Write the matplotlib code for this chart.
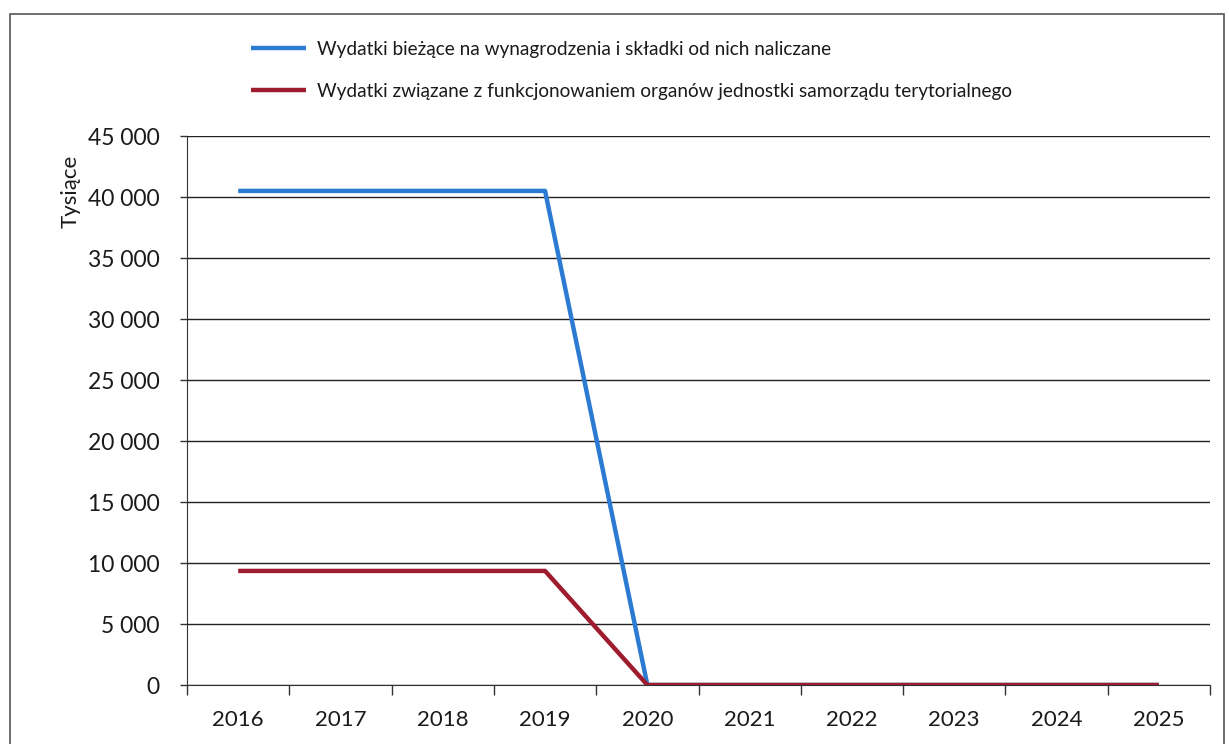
import matplotlib
matplotlib.use("Agg")
import matplotlib.pyplot as plt
from matplotlib.patches import Rectangle
from matplotlib.ticker import FuncFormatter, MultipleLocator

plt.rcParams['font.family'] = ['Lato', 'DejaVu Sans']

# Dane
lata = ['2016', '2017', '2018', '2019', '2020', '2021', '2022', '2023', '2024', '2025']
wynagrodzenia = [40500, 40500, 40500, 40500, 0, 0, 0, 0, 0, 0]
organy = [9350, 9350, 9350, 9350, 0, 0, 0, 0, 0, 0]
etykiety = ['Wydatki bieżące na wynagrodzenia i składki od nich naliczane',
            'Wydatki związane z funkcjonowaniem organów jednostki samorządu terytorialnego']

fig = plt.figure(figsize=(12.29, 7.44), dpi=100)
ax = fig.add_axes([0.1522, 0.0793, 0.8323, 0.7379])

x = list(range(len(lata)))
l1, = ax.plot(x, wynagrodzenia, color='#2b7bd3', linewidth=3.2, solid_capstyle='butt', zorder=3)
l2, = ax.plot(x, organy, color='#9e1c2e', linewidth=3.2, solid_capstyle='butt', zorder=4)

ax.set_xlim(-0.5, len(lata) - 0.5)
ax.set_ylim(0, 45000)
ax.yaxis.set_major_locator(MultipleLocator(5000))
ax.yaxis.set_major_formatter(FuncFormatter(lambda v, p: f"{int(v):,}".replace(',', ' ')))

# etykiety kategorii w środku, kreski na granicach
ax.set_xticks([i + 0.5 for i in range(-1, len(lata))])
ax.set_xticklabels([])
ax.set_xticks(x, minor=True)
ax.set_xticklabels(lata, minor=True, fontsize=16, color='#1a1a1a')
ax.tick_params(axis='x', which='minor', length=0, pad=18)
ax.tick_params(axis='x', which='major', length=7, width=1, color='#333333')
ax.tick_params(axis='y', length=5, width=1, color='#333333', labelsize=16.5, labelcolor='#1a1a1a', pad=15)

ax.grid(axis='y', color='#222222', linewidth=1.0)
for s in ['top', 'right']:
    ax.spines[s].set_visible(False)
ax.spines['left'].set_color('#333333')
ax.spines['bottom'].set_color('#333333')

ax.set_ylabel('Tysiące', fontsize=16, color='#1a1a1a')
ax.yaxis.set_label_coords(-0.104, 0.90)

fig.legend([l1, l2], etykiety, loc='upper left', bbox_to_anchor=(0.19, 0.968),
           frameon=False, fontsize=13.7, handlelength=2.9, handletextpad=0.6,
           labelspacing=1.3, labelcolor='#1a1a1a')

# ramka wykresu
fig.patches.append(Rectangle((10 / 1229, -0.05), 1214 / 1229, 1 - 14 / 744 + 0.05,
                             transform=fig.transFigure, fill=False,
                             edgecolor='#555555', linewidth=1.2))

plt.savefig('out.png', dpi=100)
